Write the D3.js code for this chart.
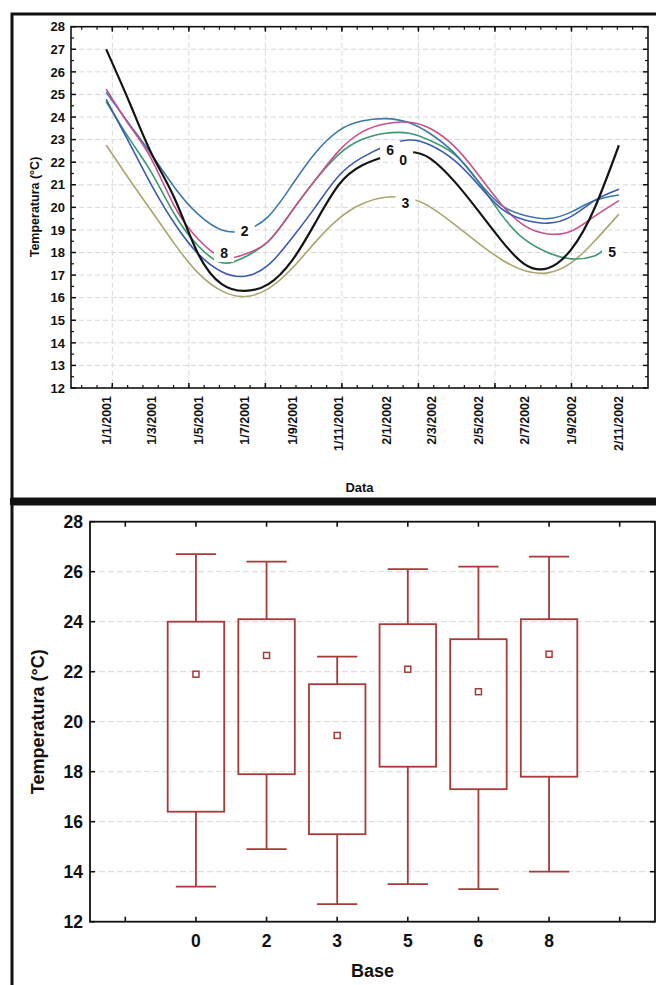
<!DOCTYPE html>
<html><head><meta charset="utf-8">
<script src="https://cdn.jsdelivr.net/npm/d3@7"></script>
<style>
body{margin:0;background:#fff}
svg{display:block}
text{font-family:"Liberation Sans",Arial,sans-serif;font-weight:bold;fill:#111}
</style>
</head><body><svg id="c" width="656" height="985"></svg>
<script>
// ---------- TOP CHART DATA ----------
const sampleDates = ["2001-01-01","2001-02-01","2001-03-01","2001-04-01","2001-05-01","2001-06-01",
  "2001-07-01","2001-08-01","2001-09-01","2001-10-01","2001-11-01","2001-12-01","2002-01-01",
  "2002-02-01","2002-03-01","2002-04-01","2002-05-01","2002-06-01","2002-07-01","2002-08-01",
  "2002-09-01","2002-10-01","2002-11-02"];
// series 5 stops at its label
const sampleDates5 = sampleDates.slice(0, 22).concat(["2002-10-14"]);
const base0 = [27.0,24.6,22.4,20.35,17.95,16.6,16.3,16.6,17.65,19.3,21.0,21.85,22.25,22.45,22.15,21.15,19.9,18.55,17.5,17.3,18.15,19.95,22.75];
const base2 = [25.1,23.65,22.35,20.85,19.7,19.0,18.98,19.6,21.0,22.4,23.4,23.82,23.93,23.75,23.25,22.4,21.2,20.1,19.65,19.5,19.8,20.3,20.55];
const base3 = [22.76,21.2,19.85,18.35,17.1,16.3,16.05,16.4,17.3,18.45,19.5,20.15,20.45,20.4,20.0,19.25,18.45,17.7,17.2,17.1,17.55,18.5,19.7];
const base5 = [24.68,23.0,21.55,19.65,18.3,17.55,17.8,18.5,19.85,21.2,22.35,23.0,23.28,23.28,22.95,22.35,21.2,19.7,18.6,18.0,17.72,17.85,18.15];
const base6 = [24.78,22.8,21.0,19.25,17.95,17.15,16.95,17.45,18.65,20.0,21.4,22.2,22.72,22.98,22.75,22.08,21.05,19.95,19.45,19.3,19.6,20.3,20.8];
const base8 = [25.23,23.6,22.15,20.0,18.6,17.8,17.92,18.5,19.85,21.2,22.5,23.33,23.7,23.77,23.48,22.7,21.5,20.15,19.2,18.82,18.95,19.6,20.3];
const seriesNames = ["0","2","3","5","6","8"];
const seriesColors = ["#141414","#3a7aaa","#aaa56c","#3c9a70","#3c5ab0","#c8508c"];
// curve label anchors (date, value)
const labelDates = ["2001-07-01","2001-06-04","2002-01-07","2002-01-24","2002-01-27","2002-10-24"];
const labelValues = [18.95,17.98,22.54,22.1,20.18,18.04];
const labelTexts = ["2","8","6","0","3","5"];
// x tick labels (day/month/year)
const xTickDates = ["2001-01-01","2001-03-01","2001-05-01","2001-07-01","2001-09-01","2001-11-01",
  "2002-01-02","2002-03-02","2002-05-02","2002-07-02","2002-09-01","2002-11-02"];
const xTickLabels = ["1/1/2001","1/3/2001","1/5/2001","1/7/2001","1/9/2001","1/11/2001",
  "2/1/2002","2/3/2002","2/5/2002","2/7/2002","1/9/2002","2/11/2002"];
const majorGridDates = ["2001-01-09","2001-04-19","2001-07-28","2001-11-05","2002-02-13","2002-05-24","2002-09-01"];
const topYTicks = d3.range(12, 29, 1);

// ---------- BOTTOM CHART DATA ----------
const bases = ["0","2","3","5","6","8"];
const whiskerHi = [26.7,26.4,22.6,26.1,26.2,26.6];
const boxHi = [24.0,24.1,21.5,23.9,23.3,24.1];
const means = [21.9,22.65,19.45,22.1,21.2,22.7];
const boxLo = [16.4,17.9,15.5,18.2,17.3,17.8];
const whiskerLo = [13.4,14.9,12.7,13.5,13.3,14.0];
const botYTicks = [12,14,16,18,20,22,24,26,28];

const svg = d3.select("#c");
const P = s => d3.utcParse("%Y-%m-%d")(s);

// ---------- frames ----------
svg.append("rect").attr("x",12).attr("y",14).attr("width",660).attr("height",485)
  .attr("fill","none").attr("stroke","#111").attr("stroke-width",3);
svg.append("rect").attr("x",12).attr("y",504).attr("width",660).attr("height",500)
  .attr("fill","none").attr("stroke","#111").attr("stroke-width",3);
svg.append("rect").attr("x",10).attr("y",498).attr("width",660).attr("height",7).attr("fill","#111");

// ---------- TOP CHART ----------
const T = {l:71, r:648, t:26.7, b:388};
const x = d3.scaleUtc().domain([P("2000-11-16"), P("2002-12-10")]).range([T.l, T.r]);
const y = d3.scaleLinear().domain([12, 28]).range([T.b, T.t]);
const gT = svg.append("g");

// grid
gT.selectAll(".hg").data(topYTicks.filter(v=>v>12&&v<28)).join("line")
  .attr("x1",T.l).attr("x2",T.r).attr("y1",d=>y(d)).attr("y2",d=>y(d))
  .attr("stroke","#d6d9dc").attr("stroke-dasharray","5,3").attr("stroke-width",1);
gT.selectAll(".vg").data(majorGridDates).join("line")
  .attr("x1",d=>x(P(d))).attr("x2",d=>x(P(d))).attr("y1",T.t).attr("y2",T.b)
  .attr("stroke","#d6d9dc").attr("stroke-dasharray","5,3").attr("stroke-width",1);

// ticks
const minorX = d3.range(-2, 38).map(k => d3.utcDay.offset(P("2001-01-09"), k*20)).filter(d => x(d) > T.l+1 && x(d) < T.r-1);
[T.b, T.t].forEach((yy,i) => {
  const dir = i===0 ? -1 : 1;
  gT.selectAll(null).data(minorX).join("line").attr("x1",d=>x(d)).attr("x2",d=>x(d))
    .attr("y1",yy).attr("y2",yy+dir*3).attr("stroke","#111").attr("stroke-width",1.2);
  gT.selectAll(null).data(majorGridDates).join("line").attr("x1",d=>x(P(d))).attr("x2",d=>x(P(d)))
    .attr("y1",yy).attr("y2",yy+dir*5).attr("stroke","#111").attr("stroke-width",1.5);
});
const minorY = d3.range(12.5, 28, 1);
[T.l, T.r].forEach((xx,i) => {
  const dir = i===0 ? 1 : -1;
  gT.selectAll(null).data(topYTicks).join("line").attr("x1",xx).attr("x2",xx+dir*5)
    .attr("y1",d=>y(d)).attr("y2",d=>y(d)).attr("stroke","#111").attr("stroke-width",1.5);
  gT.selectAll(null).data(minorY).join("line").attr("x1",xx).attr("x2",xx+dir*3)
    .attr("y1",d=>y(d)).attr("y2",d=>y(d)).attr("stroke","#111").attr("stroke-width",1.2);
});

// curves
const seriesVals = [base0, base2, base3, base5, base6, base8];
const seriesDates = [sampleDates, sampleDates, sampleDates, sampleDates5, sampleDates, sampleDates];
const line = d3.line().x(d=>x(d[0])).y(d=>y(d[1])).curve(d3.curveNatural);
const order = [2,3,1,5,4,0];
order.forEach(i => {
  const pts = seriesDates[i].map((d,j) => [P(d), seriesVals[i][j]]);
  gT.append("path").attr("d", line(pts)).attr("fill","none")
    .attr("stroke", seriesColors[i]).attr("stroke-width", i===0 ? 2.2 : 1.6);
});

// curve labels with gap
labelTexts.forEach((t,i) => {
  const cx = x(P(labelDates[i])), cy = y(labelValues[i]);
  gT.append("rect").attr("x",cx-10).attr("y",cy-9).attr("width",20).attr("height",18).attr("fill","#fff");
});
labelTexts.forEach((t,i) => {
  const cx = x(P(labelDates[i])), cy = y(labelValues[i]);
  gT.append("text").attr("x",cx).attr("y",cy).attr("dy","0.36em").attr("text-anchor","middle")
    .attr("font-size",14).attr("fill","#222").text(t);
});

// frame
gT.append("rect").attr("x",T.l).attr("y",T.t).attr("width",T.r-T.l).attr("height",T.b-T.t)
  .attr("fill","none").attr("stroke","#111").attr("stroke-width",1.6);

// y labels
gT.selectAll(".yl").data(topYTicks).join("text").attr("x",65).attr("y",d=>y(d)).attr("dy","0.36em")
  .attr("text-anchor","end").attr("font-size",13).text(d=>d);
// x labels
gT.selectAll(".xl").data(xTickDates).join("text")
  .attr("transform",d=>`translate(${x(P(d))},396) rotate(-90)`).attr("dy","0.36em")
  .attr("text-anchor","end").attr("font-size",12.5).text((d,i)=>xTickLabels[i]);
gT.append("text").attr("x",(T.l+T.r)/2).attr("y",491.5).attr("text-anchor","middle")
  .attr("font-size",13).text("Data");
gT.append("text").attr("transform",`translate(34,207) rotate(-90)`).attr("dy","0.36em")
  .attr("text-anchor","middle").attr("font-size",12.5).text("Temperatura (°C)");

// ---------- BOTTOM CHART ----------
const B = {l:90, r:655, t:521.7, b:921.7};
const xb = d3.scaleBand().domain(["_a", ...bases, "_b"]).range([B.l, B.r]).paddingInner(0).paddingOuter(0);
const yb = d3.scaleLinear().domain([12, 28]).range([B.b, B.t]);
const gB = svg.append("g");
const boxColor = "#a83a3a";

gB.selectAll(".hg").data(botYTicks.filter(v=>v>12&&v<28)).join("line")
  .attr("x1",B.l).attr("x2",B.r).attr("y1",d=>yb(d)).attr("y2",d=>yb(d))
  .attr("stroke","#d6d9dc").attr("stroke-dasharray","6,3").attr("stroke-width",1);

const cats = xb.domain();
[B.b, B.t].forEach((yy,i) => {
  const dir = i===0 ? -1 : 1;
  gB.selectAll(null).data(cats).join("line").attr("x1",d=>xb(d)+xb.bandwidth()/2).attr("x2",d=>xb(d)+xb.bandwidth()/2)
    .attr("y1",yy).attr("y2",yy+dir*5).attr("stroke","#111").attr("stroke-width",1.6);
});
[B.l, B.r].forEach((xx,i) => {
  const dir = i===0 ? 1 : -1;
  gB.selectAll(null).data(botYTicks).join("line").attr("x1",xx).attr("x2",xx+dir*5)
    .attr("y1",d=>yb(d)).attr("y2",d=>yb(d)).attr("stroke","#111").attr("stroke-width",1.6);
});

const bw = xb.bandwidth();
bases.forEach((b,i) => {
  const cx = xb(b) + bw/2;
  const g = gB.append("g").attr("stroke",boxColor).attr("stroke-width",1.8).attr("fill","none");
  g.append("line").attr("x1",cx).attr("x2",cx).attr("y1",yb(whiskerHi[i])).attr("y2",yb(boxHi[i]));
  g.append("line").attr("x1",cx).attr("x2",cx).attr("y1",yb(boxLo[i])).attr("y2",yb(whiskerLo[i]));
  g.append("line").attr("x1",cx-bw*0.285).attr("x2",cx+bw*0.285).attr("y1",yb(whiskerHi[i])).attr("y2",yb(whiskerHi[i]));
  g.append("line").attr("x1",cx-bw*0.285).attr("x2",cx+bw*0.285).attr("y1",yb(whiskerLo[i])).attr("y2",yb(whiskerLo[i]));
  g.append("rect").attr("x",cx-bw*0.4).attr("width",bw*0.8).attr("y",yb(boxHi[i])).attr("height",yb(boxLo[i])-yb(boxHi[i]));
  g.append("rect").attr("x",cx-3).attr("y",yb(means[i])-3).attr("width",6).attr("height",6).attr("fill","#fff").attr("stroke-width",1.5);
});

gB.append("rect").attr("x",B.l).attr("y",B.t).attr("width",B.r-B.l).attr("height",B.b-B.t)
  .attr("fill","none").attr("stroke","#111").attr("stroke-width",1.8);

gB.selectAll(".yl").data(botYTicks).join("text").attr("x",83).attr("y",d=>yb(d)).attr("dy","0.36em")
  .attr("text-anchor","end").attr("font-size",17.5).text(d=>d);
gB.selectAll(".xl").data(bases).join("text").attr("x",d=>xb(d)+bw/2).attr("y",941).attr("dy","0.36em")
  .attr("text-anchor","middle").attr("font-size",17.5).text(d=>d);
gB.append("text").attr("x",(B.l+B.r)/2).attr("y",971).attr("dy","0.36em").attr("text-anchor","middle")
  .attr("font-size",18).text("Base");
gB.append("text").attr("transform",`translate(38,${(B.t+B.b)/2}) rotate(-90)`).attr("dy","0.36em")
  .attr("text-anchor","middle").attr("font-size",18).text("Temperatura (°C)");
</script>
</body></html>
